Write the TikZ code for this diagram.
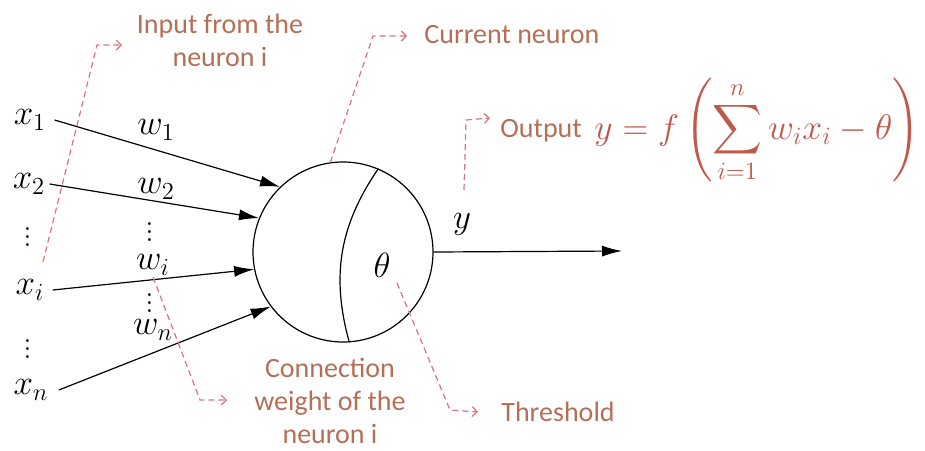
\RequirePackage{fix-cm}
\documentclass[tikz,border=0pt]{standalone}
\usepackage{amsmath}
\usepackage{fontspec}
\newfontfamily\notefont{Carlito}
\usetikzlibrary{arrows.meta, positioning, calc}
\definecolor{notebrown}{HTML}{B47056}
\definecolor{noteline}{HTML}{D5767E}
\definecolor{formulared}{HTML}{C0584C}
\tikzset{
    mathlbl/.style={inner sep=0pt, font=\fontsize{17.5}{20}\selectfont},
    note/.style={inner sep=0pt, text=notebrown, align=center, font=\notefont\fontsize{14}{16.5}\selectfont},
    wire/.style={-{Latex[length=10pt, width=5.5pt]}, line width=0.6pt},
    notearrow/.style={-{Straight Barb[length=2.5pt, width=5pt]}, densely dashed, draw=noteline, line width=0.6pt}
}
\begin{document}
\begin{tikzpicture}[x=0.5pt, y=-0.5pt]
    \useasboundingbox (0,0) rectangle (925,450);
    % neuron
    \node[circle, draw, line width=0.6pt, minimum size=90pt, inner sep=0pt] (neuron) at (343,252) {};
    \draw[line width=0.6pt] (neuron.67) to[bend right=25] (neuron.-86);
    \node[mathlbl] (theta) at (382,265) {$\theta$};
    % inputs
    \node[mathlbl] (x1) at (30,120) {$x_1$};
    \node[mathlbl] (x2) at (29,184) {$x_2$};
    \node[mathlbl] (xd1) at (28,231) {$\vdots$};
    \node[mathlbl] (xi) at (30,290) {$x_i$};
    \node[mathlbl] (xd2) at (28,343) {$\vdots$};
    \node[mathlbl] (xn) at (31,390) {$x_n$};
    \draw[wire] ([xshift=4pt]x1.east) -- (neuron.134);
    \draw[wire] ([xshift=2pt]x2.east) -- (neuron.158);
    \draw[wire] ([xshift=4pt]xi.east) -- (neuron.191);
    \draw[wire] ([xshift=5pt]xn.east) -- (neuron.217);
    % weights
    \node[mathlbl] (w1) at (156,130) {$w_1$};
    \node[mathlbl] (w2) at (156,189) {$w_2$};
    \node[mathlbl] (wd1) at (150,226) {$\vdots$};
    \node[mathlbl] (wi) at (153,265) {$w_i$};
    \node[mathlbl] (wd2) at (150,297) {$\vdots$};
    \node[mathlbl] (wn) at (153,330) {$w_n$};
    % output
    \coordinate (yend) at (622,251);
    \draw[wire] (neuron.east) -- (yend);
    \node[mathlbl] (y) at (462,224) {$y$};
    % notes
    \node[note] (ninput) at (220,40) {Input from the\\neuron i};
    \node[note, anchor=west] (ncurrent) at (424,35) {Current neuron};
    \node[note, anchor=base west] (noutput) at (500,137) {Output};
    \node[mathlbl, anchor=base west, text=formulared, font=\fontsize{17.8}{21}\selectfont] (formula) at (594,139)
        {$\displaystyle y = f\left(\sum_{i=1}^{n} w_i x_i - \theta\right)$};
    \node[note] (nweight) at (330,401) {Connection\\weight of the\\neuron i};
    \node[note, anchor=west] (nthresh) at (501,412) {Threshold};
    % dashed pointers
    \coordinate (pinput) at (43,262);
    \coordinate (cinput) at (97,45);
    \coordinate (einput) at (122,45);
    \draw[notearrow] (pinput) -- (cinput) -- (einput);
    \coordinate (ccurrent) at (373,36);
    \coordinate (ecurrent) at (407,36);
    \draw[notearrow] (neuron.98) -- (ccurrent) -- (ecurrent);
    \coordinate (poutput) at (464,190);
    \coordinate (coutput) at (466,120);
    \coordinate (eoutput) at (490,118);
    \draw[notearrow] (poutput) -- (coutput) -- (eoutput);
    \coordinate (pweight) at (153,277);
    \coordinate (cweight) at (200,400);
    \coordinate (eweight) at (227,400);
    \draw[notearrow] (pweight) -- (cweight) -- (eweight);
    \coordinate (pthresh) at (397,283);
    \coordinate (cthresh) at (450,410);
    \coordinate (ethresh) at (478,412);
    \draw[notearrow] (pthresh) -- (cthresh) -- (ethresh);
\end{tikzpicture}
\end{document}
